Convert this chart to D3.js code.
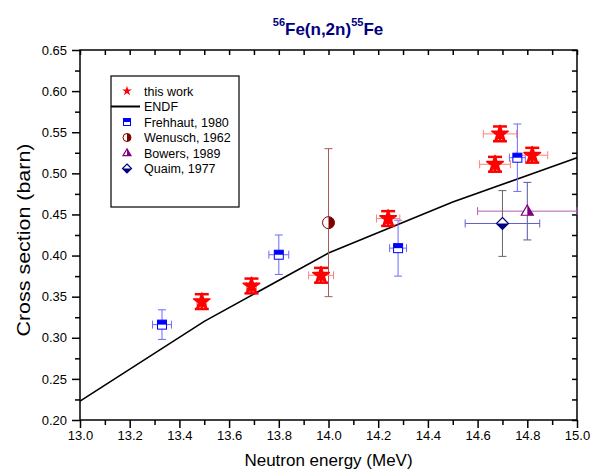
<!DOCTYPE html>
<html>
<head>
<meta charset="utf-8">
<script src="https://cdn.jsdelivr.net/npm/d3@7"></script>
<style>
  body { margin: 0; background: #fff; }
  text { font-family: Arial, "Liberation Sans", sans-serif; }
</style>
</head>
<body>
<svg id="chart" width="592" height="473"></svg>
<script>
// this work
var workE   = [13.49, 13.69, 13.97, 14.24, 14.67, 14.69, 14.82];
var workXS  = [0.344, 0.363, 0.376, 0.445, 0.511, 0.548, 0.522];
var workDE  = [0.02, 0.02, 0.05, 0.047, 0.062, 0.067, 0.062];
var workDXS = [0.009, 0.009, 0.009, 0.009, 0.009, 0.009, 0.009];

// ENDF evaluation
var endfE  = [13.0, 13.5, 14.0, 14.5, 15.0];
var endfXS = [0.223, 0.320, 0.403, 0.465, 0.519];

// Frehhaut, 1980
var frehE   = [13.33, 13.80, 14.28, 14.76];
var frehXS  = [0.316, 0.401, 0.409, 0.519];
var frehDE  = [0.038, 0.04, 0.034, 0.032];
var frehDXS = [0.018, 0.024, 0.034, 0.041];

// Wenusch, 1962
var wenE = [14.0], wenXS = [0.44], wenDXS = [0.09];
// Bowers, 1989
var bowE = [14.8], bowXS = [0.454], bowDE = [0.2], bowDXS = [0.035];
// Quaim, 1977
var quaE = [14.7], quaXS = [0.439], quaDE = [0.15], quaDXS = [0.04];

var legendLabels = ["this work", "ENDF", "Frehhaut, 1980", "Wenusch, 1962", "Bowers, 1989", "Quaim, 1977"];
var xMajor = [13.0, 13.2, 13.4, 13.6, 13.8, 14.0, 14.2, 14.4, 14.6, 14.8, 15.0];
var yMajor = [0.20, 0.25, 0.30, 0.35, 0.40, 0.45, 0.50, 0.55, 0.60, 0.65];

var svg = d3.select("#chart");
var plot = {left: 80, right: 577, top: 50, bottom: 420};

var x = d3.scaleLinear().domain([13, 15]).range([plot.left, plot.right]);
var y = d3.scaleLinear().domain([0.2, 0.65]).range([plot.bottom, plot.top]);

var xMinor = d3.range(13.1, 15.0, 0.2);
var yMinor = d3.range(0.225, 0.65, 0.05);

function styleAxis(g) {
  g.select(".domain").remove();
  g.selectAll("line").attr("stroke", "#000").attr("stroke-width", 1.5);
  g.selectAll("text").attr("font-size", 13).attr("fill", "#000");
}

// bottom axis
svg.append("g").attr("transform", "translate(0," + plot.bottom + ")")
  .call(d3.axisBottom(x).tickValues(xMajor).tickSize(8).tickPadding(3).tickFormat(d3.format(".1f")))
  .call(styleAxis);
svg.append("g").attr("transform", "translate(0," + plot.bottom + ")")
  .call(d3.axisBottom(x).tickValues(xMinor).tickSize(5).tickFormat(""))
  .call(styleAxis);
// left axis
svg.append("g").attr("transform", "translate(" + plot.left + ",0)")
  .call(d3.axisLeft(y).tickValues(yMajor).tickSize(8).tickPadding(5).tickFormat(d3.format(".2f")))
  .call(styleAxis);
svg.append("g").attr("transform", "translate(" + plot.left + ",0)")
  .call(d3.axisLeft(y).tickValues(yMinor).tickSize(5).tickFormat(""))
  .call(styleAxis);
// top and right mirror ticks, inward
svg.append("g").attr("transform", "translate(0," + plot.top + ")")
  .call(d3.axisBottom(x).tickValues(xMajor.concat(xMinor)).tickSize(5).tickFormat(""))
  .call(styleAxis);
svg.append("g").attr("transform", "translate(" + plot.right + ",0)")
  .call(d3.axisLeft(y).tickValues(yMajor.concat(yMinor)).tickSize(5).tickFormat(""))
  .call(styleAxis);

// frame
svg.append("rect").attr("x", plot.left).attr("y", plot.top)
  .attr("width", plot.right - plot.left).attr("height", plot.bottom - plot.top)
  .attr("fill", "none").attr("stroke", "#000").attr("stroke-width", 1.5);

// ENDF line
var endf = endfE.map(function(e, i) { return [e, endfXS[i]]; });
svg.append("path").datum(endf)
  .attr("fill", "none").attr("stroke", "#000").attr("stroke-width", 1.6)
  .attr("d", d3.line().x(function(d) { return x(d[0]); }).y(function(d) { return y(d[1]); }));

// error bars
function errorBars(E, XS, dE, dXS, hColor, vColor, hw, vw, capW) {
  var g = svg.append("g");
  E.forEach(function(e, i) {
    var cx = x(e), cy = y(XS[i]);
    if (dXS && dXS[i]) {
      var y1 = y(XS[i] + dXS[i]), y2 = y(XS[i] - dXS[i]);
      g.append("line").attr("x1", cx).attr("x2", cx).attr("y1", y1).attr("y2", y2)
        .attr("stroke", vColor).attr("stroke-width", vw);
      [y1, y2].forEach(function(yy) {
        g.append("line").attr("x1", cx - capW).attr("x2", cx + capW).attr("y1", yy).attr("y2", yy)
          .attr("stroke", vColor).attr("stroke-width", vw);
      });
    }
    if (dE && dE[i]) {
      var x1 = x(e - dE[i]), x2 = x(e + dE[i]);
      g.append("line").attr("x1", x1).attr("x2", x2).attr("y1", cy).attr("y2", cy)
        .attr("stroke", hColor).attr("stroke-width", hw);
      [x1, x2].forEach(function(xx) {
        g.append("line").attr("x1", xx).attr("x2", xx).attr("y1", cy - 4).attr("y2", cy + 4)
          .attr("stroke", hColor).attr("stroke-width", hw);
      });
    }
  });
}

errorBars(frehE, frehXS, frehDE, frehDXS, "#6a6aff", "#6a6aff", 1, 1, 4);
errorBars(wenE, wenXS, null, wenDXS, "#a85a5a", "#a85a5a", 1, 1, 4);
errorBars(bowE, bowXS, bowDE, bowDXS, "#b060b0", "#5555aa", 1, 1, 4);
errorBars(quaE, quaXS, quaDE, quaDXS, "#6060c8", "#666666", 1, 1, 4);
errorBars(workE, workXS, workDE, null, "#ff8080", "#ff8080", 1, 1, 4);
errorBars(workE, workXS, null, workDXS, "#ff0000", "#ff0000", 2.5, 2.5, 7);

// marker shapes, drawn relative to (0,0)
function drawSquare(g, s, col) {
  g.append("rect").attr("x", -s).attr("y", -s).attr("width", 2 * s).attr("height", 2 * s)
    .attr("fill", "#fff").attr("stroke", col).attr("stroke-width", 1);
  g.append("rect").attr("x", -s).attr("y", -s).attr("width", 2 * s).attr("height", s)
    .attr("fill", col);
}
function drawCircle(g, r, col) {
  g.append("circle").attr("r", r).attr("fill", "#fff").attr("stroke", col).attr("stroke-width", 1);
  g.append("path").attr("d", "M0," + (-r) + "A" + r + "," + r + " 0 0,1 0," + r + "Z").attr("fill", col);
}
function drawTriangle(g, s, col) {
  var h = s * 1.7;
  g.append("path").attr("d", "M0," + (-h * 0.6) + "L" + s + "," + (h * 0.4) + "L" + (-s) + "," + (h * 0.4) + "Z")
    .attr("fill", "#fff").attr("stroke", col).attr("stroke-width", 1.2);
  g.append("path").attr("d", "M0," + (-h * 0.6) + "L" + s + "," + (h * 0.4) + "L0," + (h * 0.4) + "Z")
    .attr("fill", col);
}
function drawDiamond(g, s, col) {
  g.append("path").attr("d", "M0," + (-s) + "L" + s + ",0L0," + s + "L" + (-s) + ",0Z")
    .attr("fill", "#fff").attr("stroke", col).attr("stroke-width", 1.2);
  g.append("path").attr("d", "M" + (-s) + ",0L" + s + ",0L0," + s + "Z").attr("fill", col);
}
function drawStar(g, size, sw) {
  g.append("path").attr("d", d3.symbol(d3.symbolStar, size)())
    .attr("fill", "#ff0000").attr("stroke", "#ff0000").attr("stroke-width", sw || 0)
    .attr("stroke-linejoin", "round");
}

function place(E, XS, fn) {
  E.forEach(function(e, i) {
    var g = svg.append("g").attr("transform", "translate(" + x(e) + "," + y(XS[i]) + ")");
    fn(g);
  });
}

place(frehE, frehXS, function(g) { drawSquare(g, 4.5, "#0000ff"); });
place(wenE, wenXS, function(g) { drawCircle(g, 6, "#800000"); });
place(bowE, bowXS, function(g) { drawTriangle(g, 6, "#800080"); });
place(quaE, quaXS, function(g) { drawDiamond(g, 6, "#000080"); });
place(workE, workXS, function(g) { drawStar(g, 85, 1.5); });

// legend
var lg = svg.append("g");
lg.append("rect").attr("x", 111).attr("y", 76).attr("width", 128).attr("height", 131)
  .attr("fill", "#fff").attr("stroke", "#000").attr("stroke-width", 1.2);
var rowY = [91, 106.5, 122, 137.5, 153, 168.5];
var symX = 127;
legendLabels.forEach(function(t, i) {
  lg.append("text").attr("x", 144).attr("y", rowY[i] + 4.5).attr("font-size", 12.5).text(t);
});
drawStar(lg.append("g").attr("transform", "translate(" + symX + "," + rowY[0] + ")"), 30);
lg.append("line").attr("x1", 111).attr("x2", 140).attr("y1", rowY[1]).attr("y2", rowY[1])
  .attr("stroke", "#000").attr("stroke-width", 2);
drawSquare(lg.append("g").attr("transform", "translate(" + symX + "," + rowY[2] + ")"), 3.5, "#0000ff");
drawCircle(lg.append("g").attr("transform", "translate(" + symX + "," + rowY[3] + ")"), 4, "#800000");
drawTriangle(lg.append("g").attr("transform", "translate(" + symX + "," + rowY[4] + ")"), 4, "#800080");
drawDiamond(lg.append("g").attr("transform", "translate(" + symX + "," + rowY[5] + ")"), 4.5, "#000080");

// title
var title = svg.append("text").attr("x", 328).attr("y", 35).attr("text-anchor", "middle")
  .attr("font-weight", "bold").attr("fill", "#000080").attr("font-size", 17);
title.append("tspan").attr("font-size", 11).attr("dy", -9).text("56");
title.append("tspan").attr("dy", 9).text("Fe(n,2n)");
title.append("tspan").attr("font-size", 11).attr("dy", -9).text("55");
title.append("tspan").attr("dy", 9).text("Fe");

// axis titles
svg.append("text").attr("x", (plot.left + plot.right) / 2).attr("y", 466).attr("text-anchor", "middle")
  .attr("font-size", 17).text("Neutron energy (MeV)");
svg.append("text").attr("transform", "translate(30," + ((plot.top + plot.bottom) / 2 + 5) + ") rotate(-90)")
  .attr("text-anchor", "middle").attr("font-size", 18)
  .attr("textLength", 193).attr("lengthAdjust", "spacingAndGlyphs")
  .text("Cross section (barn)");
</script>
</body>
</html>
